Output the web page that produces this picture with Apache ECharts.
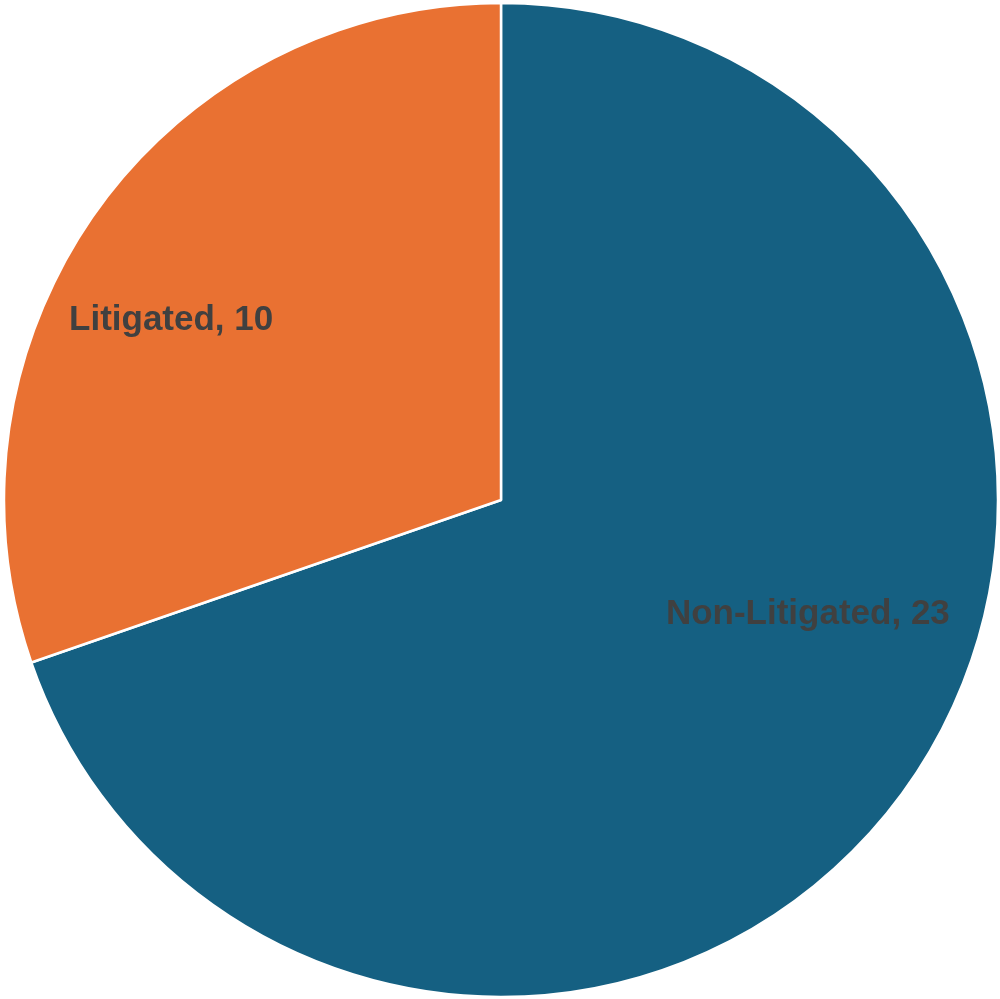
<!DOCTYPE html>
<html>
<head>
<meta charset="utf-8">
<script src="https://cdn.jsdelivr.net/npm/echarts@6/dist/echarts.min.js"></script>
<style>
  html, body { margin: 0; padding: 0; background: #ffffff; }
  #chart { width: 1000px; height: 999px; }
</style>
</head>
<body>
<div id="chart"></div>
<script>
// Case outcomes
const categories = ['Non-Litigated', 'Litigated'];
const counts = [23, 10];
const colors = ['#156082', '#E97132'];
// label nudges from the default inside spot
const labelOffsets = [[102, -32], [-125, -34]];

const chart = echarts.init(document.getElementById('chart'), null, { renderer: 'canvas' });

chart.setOption({
  animation: false,
  backgroundColor: '#ffffff',
  series: [{
    type: 'pie',
    center: [501, 500],
    radius: [0, 497],
    startAngle: 90,
    clockwise: true,
    avoidLabelOverlap: false,
    itemStyle: { borderColor: '#ffffff', borderWidth: 2.5 },
    label: {
      show: true,
      position: 'inside',
      formatter: '{b}, {c}',
      color: '#404040',
      fontFamily: 'Liberation Sans, Arial, sans-serif',
      fontWeight: 'bold',
      fontSize: 35
    },
    labelLine: { show: false },
    emphasis: { disabled: true },
    data: categories.map((name, i) => ({
      name: name,
      value: counts[i],
      itemStyle: { color: colors[i] },
      label: { offset: labelOffsets[i] }
    }))
  }]
});
</script>
</body>
</html>
